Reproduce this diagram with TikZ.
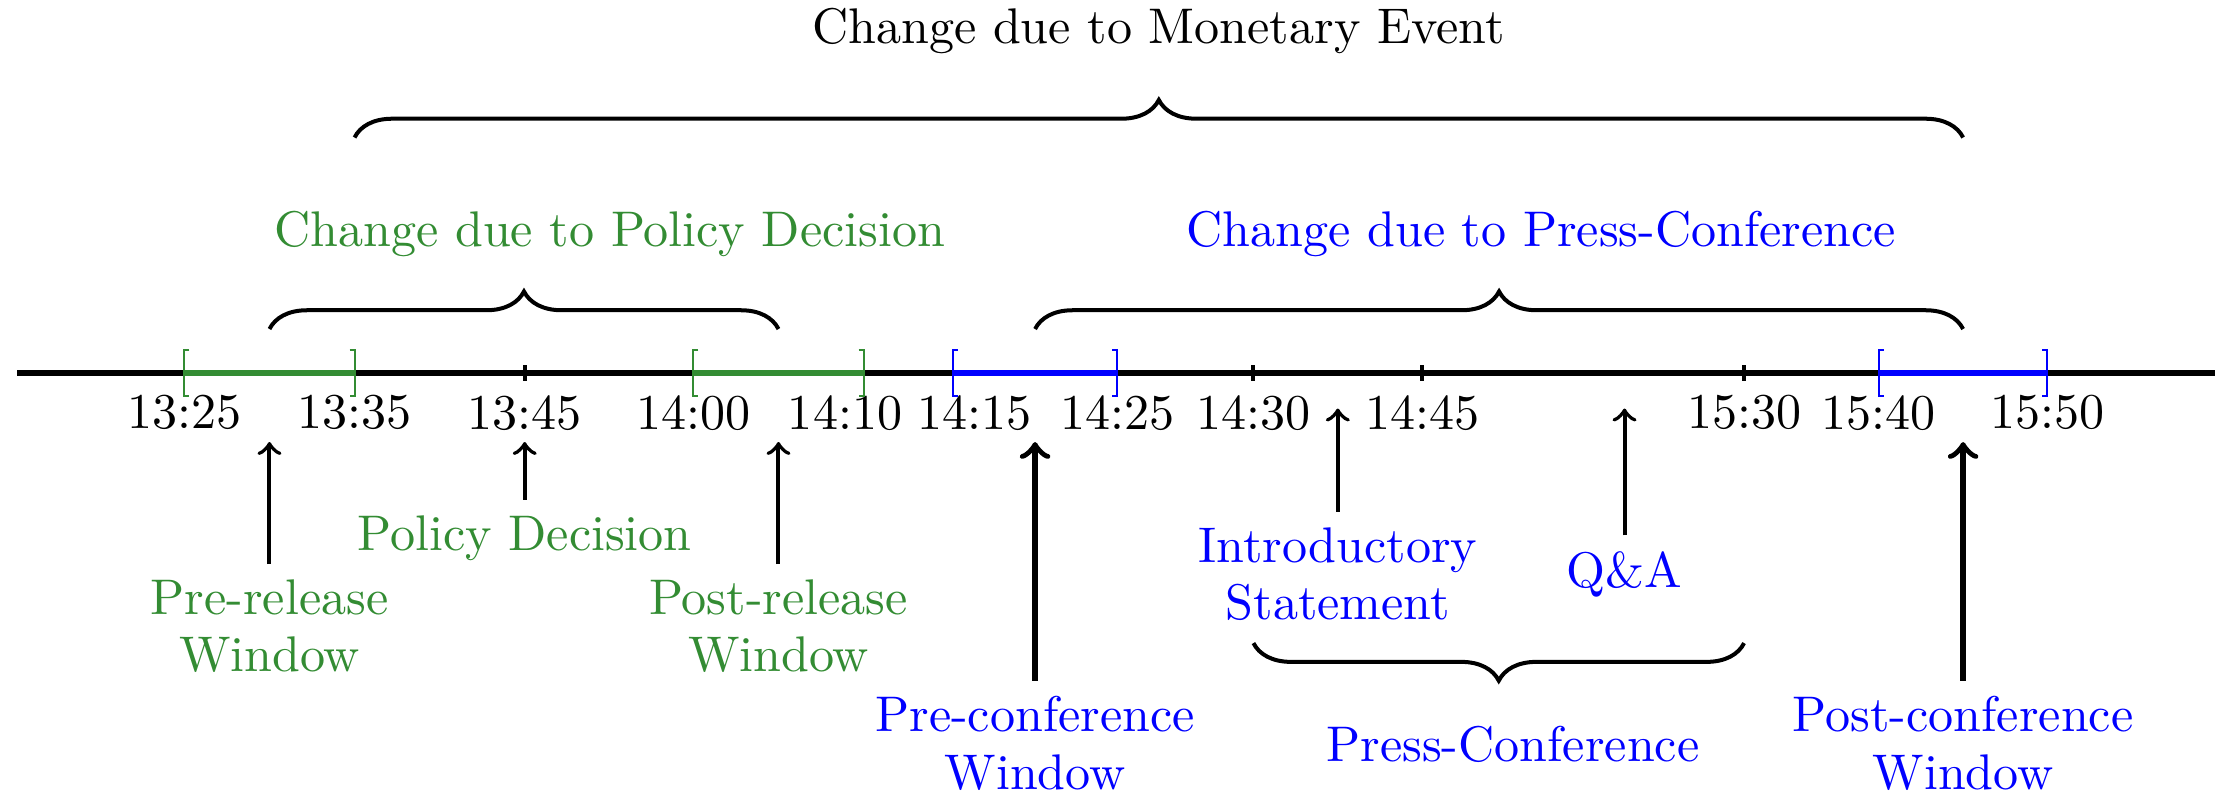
\documentclass[tikz,border=0pt]{standalone}
\usepackage{amsmath,amsfonts,amssymb}
\usepackage{tikz}
\usetikzlibrary{arrows,calc,decorations.pathreplacing}
\definecolor{polgreen}{rgb}{0.2,0.55,0.2}

\begin{document}
\begin{tikzpicture}[
  lbl/.style={align=center, inner sep=3pt},
  arr/.style={->, thick},
  bigarr/.style={->, very thick},
  brc/.style={decorate, decoration={brace, amplitude=7.5pt}, thick},
  win/.style={very thick}
]
\useasboundingbox (0,-2.945) rectangle (15.60,2.617);
\draw[very thick] (0.12,0) -- (15.54,0);
\foreach \x/\t/\s [count=\i] in {1.294/13:25/0, 2.488/13:35/0, 3.682/13:45/0, 4.866/14:00/0,
  6.060/14:10/-0.13, 6.686/14:15/0.15, 7.841/14:25/0, 8.796/14:30/0, 9.980/14:45/0,
  12.239/15:30/0, 13.184/15:40/0, 14.368/15:50/0}
{
  \coordinate (p\i) at (\x,0);
  \node (t\i) at (\x+\s,-0.28) {\t};
}
\foreach \i in {3,8,9,10}
  \draw[thick] ([yshift=0.055cm]p\i) -- ([yshift=-0.055cm]p\i);
\foreach \a/\b/\c in {1/2/polgreen, 4/5/polgreen, 6/7/blue, 11/12/blue}
{
  \draw[win,\c] (p\a) -- (p\b);
  \draw[\c] ([shift={(0.035,0.16)}]p\a) -| ([yshift=-0.16cm]p\a) -- ++(0.035,0);
  \draw[\c] ([shift={(-0.035,0.16)}]p\b) -| ([yshift=-0.16cm]p\b) -- ++(-0.035,0);
}

\coordinate (w1) at ($(p1)!0.5!(p2)$);
\coordinate (w2) at ($(p4)!0.5!(p5)$);
\coordinate (w3) at ($(p6)!0.5!(p7)$);
\coordinate (w4) at ($(p11)!0.5!(p12)$);
\coordinate (ist) at ($(p8)!0.5!(p9)$);
\coordinate (qa) at (11.40,0);

\node[lbl, polgreen] (prerel) at ($(w1)+(0,-1.78)$) {Pre-release\\[-0.6pt]Window};
\node[lbl, polgreen] (poldec) at ($(p3)+(0,-1.16)$) {Policy Decision};
\node[lbl, polgreen] (postrel) at ($(w2)+(0,-1.78)$) {Post-release\\[-0.6pt]Window};
\node[lbl, blue] (preconf) at ($(w3)+(0,-2.60)$) {Pre-conference\\[-0.6pt]Window};
\node[lbl, blue] (intro) at ($(ist)+(0,-1.413)$) {Introductory\\[-0.6pt]Statement};
\node[lbl, blue] (qanda) at ($(qa)+(0,-1.413)$) {Q\&A};
\node[lbl, blue] (postconf) at ($(w4)+(0,-2.60)$) {Post-conference\\[-0.6pt]Window};
\node[lbl, blue] (press) at (10.617,-2.607) {Press-Conference};

\draw[arr] (prerel) -- ([yshift=-0.485cm]w1);
\draw[arr] (poldec) -- ([yshift=-0.485cm]p3);
\draw[arr] (postrel) -- ([yshift=-0.485cm]w2);
\draw[bigarr] (preconf) -- ([yshift=-0.485cm]w3);
\draw[arr] (intro) -- ([yshift=-0.25cm]ist);
\draw[arr] (qanda) -- ([yshift=-0.25cm]qa);
\draw[bigarr] (postconf) -- ([yshift=-0.485cm]w4);

\draw[brc] ([yshift=0.308cm]w1) -- ([yshift=0.308cm]w2);
\draw[brc] ([yshift=0.308cm]w3) -- ([yshift=0.308cm]w4);
\draw[brc] ([yshift=1.652cm]p2) -- ([yshift=1.652cm]w4);
\draw[brc, decoration={mirror}] ([yshift=-1.896cm]p8) -- ([yshift=-1.896cm]p10);

\node[polgreen] (chpol) at (4.279,0.975) {Change due to Policy Decision};
\node[blue] (chpress) at (10.816,0.975) {Change due to Press-Conference};
\node (chmon) at (8.129,2.40) {Change due to Monetary Event};
\end{tikzpicture}
\end{document}
